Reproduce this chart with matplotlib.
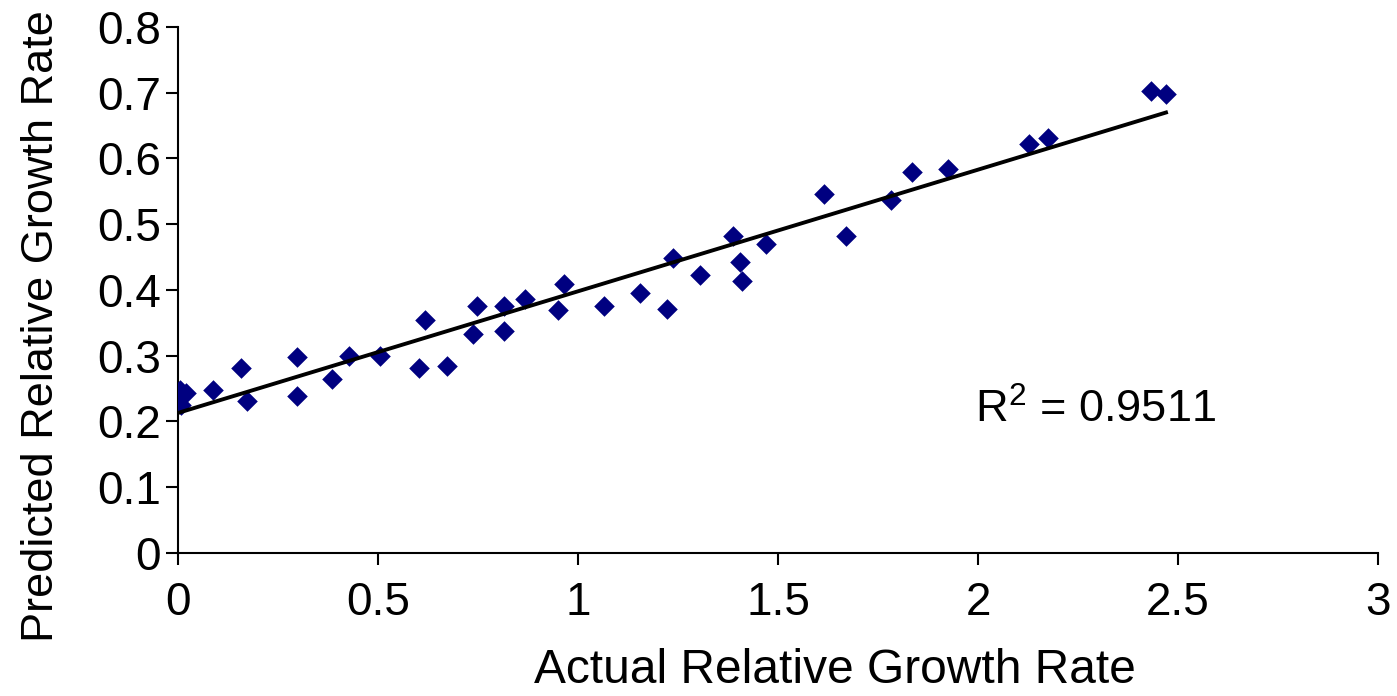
import numpy as np
import matplotlib
matplotlib.use('Agg')
import matplotlib.pyplot as plt

# values
actual = [0.005, 0.02, 0.008, 0.088, 0.158, 0.173, 0.298, 0.298, 0.385, 0.428,
          0.505, 0.603, 0.618, 0.673, 0.738, 0.748, 0.815, 0.815, 0.868, 0.95,
          0.965, 1.065, 1.155, 1.223, 1.238, 1.305, 1.388, 1.405, 1.41, 1.47,
          1.615, 1.67, 1.783, 1.835, 1.925, 2.128, 2.175, 2.433, 2.47]
predicted = [0.248, 0.243, 0.225, 0.248, 0.281, 0.231, 0.298, 0.239, 0.265, 0.300,
             0.300, 0.281, 0.354, 0.284, 0.333, 0.376, 0.376, 0.338, 0.386, 0.370,
             0.409, 0.376, 0.395, 0.371, 0.449, 0.423, 0.482, 0.443, 0.414, 0.470,
             0.546, 0.482, 0.537, 0.579, 0.584, 0.622, 0.631, 0.703, 0.698]

# trendline as drawn in the reference
trend_intercept = 0.213
trend_slope = 0.185
r_squared = 0.9511

x_ticks = [0, 0.5, 1, 1.5, 2, 2.5, 3]
x_tick_labels = ['0', '0.5', '1', '1.5', '2', '2.5', '3']
y_ticks = [0, 0.1, 0.2, 0.3, 0.4, 0.5, 0.6, 0.7, 0.8]
y_tick_labels = ['0', '0.1', '0.2', '0.3', '0.4', '0.5', '0.6', '0.7', '0.8']

plt.rcParams['font.family'] = ['Liberation Sans', 'DejaVu Sans']
plt.rcParams['mathtext.fontset'] = 'custom'
plt.rcParams['mathtext.rm'] = 'Liberation Sans'

fig = plt.figure(figsize=(13.97, 6.96), dpi=100)
ax = fig.add_axes([0.1274, 0.2055, 0.859, 0.7557])

ax.scatter(actual, predicted, marker='D', s=110, color='#000080', zorder=3, linewidths=0)

line_x = np.array([0, max(actual)])
ax.plot(line_x, trend_intercept + trend_slope * line_x, color='black', lw=2.8, zorder=4)

ax.text(1.993, 0.198, r'R$^{\mathregular{2}}$ = %.4f' % r_squared, fontsize=32.5,
        va='baseline', ha='left')

ax.set_xlim(0, 3)
ax.set_ylim(0, 0.8)
ax.set_xticks(x_ticks)
ax.set_xticklabels(x_tick_labels)
ax.set_yticks(y_ticks)
ax.set_yticklabels(y_tick_labels)

for side in ['top', 'right']:
    ax.spines[side].set_visible(False)
for side in ['left', 'bottom']:
    ax.spines[side].set_linewidth(1.5)

ax.tick_params(axis='both', direction='out', length=8.6, width=1.5, labelsize=33)
ax.tick_params(axis='x', pad=11.5)
ax.tick_params(axis='y', pad=3.5)

ax.set_xlabel('Actual Relative Growth Rate', fontsize=34.5)
ax.xaxis.set_label_coords(0.5475, -0.181)
ax.set_ylabel('Predicted Relative Growth Rate', fontsize=32.5)
ax.yaxis.set_label_coords(-0.0967, 0.4316)

fig.savefig('out.png', dpi=100)
